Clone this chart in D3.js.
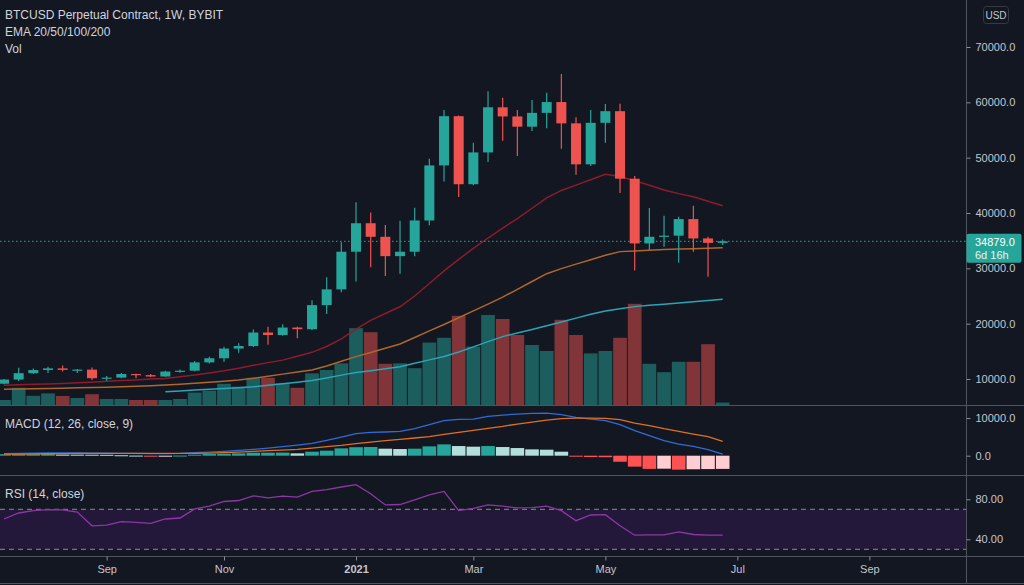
<!DOCTYPE html>
<html>
<head>
<meta charset="utf-8">
<script src="https://cdn.jsdelivr.net/npm/d3@7"></script>
<style>
  html, body { margin: 0; padding: 0; background: #131722; overflow: hidden; }
  svg { display: block; font-family: "Liberation Sans", Arial, sans-serif; }
</style>
</head>
<body>
<svg id="chart" width="1024" height="585"></svg>
<script>
// BTCUSD perpetual (Bybit), weekly bars, week of 2020-07-20 .. week of 2021-06-28
var weeks = d3.timeMonday.range(new Date(2020, 6, 20), new Date(2021, 6, 1));

var open  = [9150, 9900, 11050, 11620, 11920, 11650, 11700, 10150, 10250, 10900, 10700, 10450, 11350, 11500, 13000, 13750, 15500, 15950, 18400, 17950, 19300, 19000, 23350, 26200, 33000, 38150, 35700, 32200, 33000, 38650, 48600, 57500, 45200, 50950, 59100, 57450, 55600, 58100, 60050, 56200, 48800, 56300, 58400, 46200, 34500, 35700, 35900, 38900, 35400, 34600];
var high  = [9990, 12050, 11900, 12200, 12450, 11800, 12100, 10550, 11100, 10950, 10900, 11480, 11700, 13250, 14000, 15850, 16450, 18950, 19450, 19900, 19450, 24250, 28400, 34700, 41950, 40100, 37850, 38600, 40950, 49800, 58600, 57600, 52700, 62000, 60850, 58600, 60400, 61750, 65100, 57300, 58600, 59700, 59750, 46700, 40900, 39500, 39300, 41300, 35700, 35200];
var low   = [9050, 9650, 10950, 11100, 11350, 11100, 9800, 9700, 10150, 10150, 10350, 10400, 11150, 11400, 12800, 13100, 14750, 15800, 16200, 17800, 17350, 18850, 21750, 25700, 27600, 30200, 28600, 29000, 32200, 37800, 45700, 42900, 45000, 49200, 53050, 50300, 54800, 55300, 51600, 46900, 48500, 52700, 43600, 29600, 33300, 33900, 31000, 33000, 28500, 34200];
var close = [9900, 11050, 11620, 11920, 11650, 11700, 10150, 10250, 10900, 10700, 10450, 11350, 11500, 13000, 13750, 15500, 15950, 18400, 17950, 19300, 19000, 23350, 26200, 33000, 38150, 35700, 32200, 33000, 38650, 48600, 57500, 45200, 50950, 59100, 57450, 55600, 58100, 60050, 56200, 48800, 56300, 58400, 46200, 34500, 35700, 35900, 38900, 35400, 34600, 34879];
// volume, billions of contracts
var volume = [1.25, 4.3, 2.3, 2.9, 2.25, 1.75, 2.7, 1.5, 1.5, 1.25, 1.25, 1.25, 1.5, 3.1, 3.6, 5.3, 4.6, 6.8, 6.8, 5.4, 4.3, 7.9, 8.75, 10.4, 19.2, 18.2, 10.3, 10.4, 9.2, 15.6, 16.8, 22.3, 14.6, 22.5, 21.5, 17.5, 15, 13.5, 21.3, 17.5, 12.9, 13.5, 16.8, 25.3, 10.3, 8.2, 10.8, 10.8, 15.2, 0.6];

var ema20  = [8860, 8950, 9040, 9110, 9200, 9310, 9430, 9580, 9710, 9830, 9980, 10100, 10410, 10720, 11100, 11490, 11950, 12470, 12960, 13410, 14120, 14820, 15870, 17260, 19010, 20600, 21830, 23060, 25000, 27250, 29530, 31610, 33600, 35480, 37250, 39000, 40860, 42740, 44080, 45040, 46010, 46990, 46610, 45820, 45000, 44170, 43500, 42920, 42130, 41320];
var ema50  = [8130, 8190, 8240, 8300, 8350, 8400, 8460, 8530, 8620, 8710, 8800, 8910, 9070, 9240, 9400, 9580, 9810, 10140, 10500, 10880, 11260, 11620, 12340, 13210, 14040, 14800, 15560, 16320, 17510, 18690, 19860, 21070, 22300, 23530, 24800, 26210, 27620, 29030, 29950, 30760, 31560, 32350, 33020, 33150, 33270, 33420, 33490, 33560, 33630, 33710];
var ema100 = [null, null, null, null, null, null, null, null, null, null, null, 7700, 7840, 8010, 8150, 8300, 8440, 8590, 8860, 9150, 9430, 9720, 10180, 10700, 11170, 11510, 11870, 12220, 12830, 13460, 14080, 14890, 15810, 16750, 17660, 18310, 18960, 19610, 20300, 21000, 21710, 22300, 22700, 23080, 23310, 23530, 23750, 23970, 24180, 24400];

var macdLine   = [530, 620, 660, 710, 710, 710, 700, 660, 620, 620, 575, 575, 620, 800, 970, 1150, 1415, 1680, 2030, 2390, 2830, 3270, 4070, 4950, 5830, 6190, 6280, 6450, 7160, 8220, 9280, 9640, 9720, 10430, 10780, 11050, 11230, 11315, 10870, 10170, 9720, 9280, 8220, 6630, 5300, 3980, 3090, 2480, 1590, 440];
var signalLine = [440, 440, 480, 520, 560, 600, 620, 630, 630, 620, 620, 610, 600, 620, 700, 800, 970, 1150, 1330, 1500, 1680, 2030, 2390, 2740, 3180, 3620, 3980, 4330, 4690, 5040, 5660, 6190, 6720, 7250, 7780, 8400, 8930, 9460, 9810, 9990, 9990, 9900, 9550, 8660, 7960, 7160, 6450, 5750, 5040, 3800];
var histogram  = [400, 420, 440, 450, 300, 280, 260, 240, 120, 30, -60, -40, 40, 265, 440, 530, 620, 780, 800, 820, 620, 1060, 1330, 1945, 2250, 2300, 1860, 1770, 1860, 2480, 3000, 2560, 2390, 2560, 2300, 2030, 1680, 1590, 1060, -265, -350, -400, -1600, -2900, -3500, -3450, -3700, -3600, -3550, -3500];

var rsi = [60.3, 66.3, 68.7, 69.7, 69.4, 67.3, 53.5, 54.2, 57.6, 56.9, 55.9, 60.3, 61.3, 70.4, 73.1, 77.8, 78.8, 83.5, 81.5, 83.2, 82.2, 87.9, 89.6, 92.3, 94.6, 85.5, 74.4, 74.8, 79.5, 84.5, 87.9, 68.7, 71.0, 74.4, 73.1, 71.4, 71.7, 73.1, 68.7, 58.6, 64.3, 64.6, 53.5, 44.1, 44.4, 44.4, 47.5, 44.8, 44.1, 44.1];

var priceTicks = [10000, 20000, 30000, 40000, 50000, 60000, 70000];
var macdTicks = [0, 10000];
var rsiTicks = [40, 80];
var timeTickDates = ["2020-09-07", "2020-11-02", "2021-01-04", "2021-03-01", "2021-05-03", "2021-07-05", "2021-09-06"];
var timeTickLabels = ["Sep", "Nov", "2021", "Mar", "May", "Jul", "Sep"];

var lastPrice = close[close.length - 1];
var timeLeft = "6d 16h";

// layout
var axisX = 966.5;
var mainBottom = 405.5, macdBottom = 475.5, rsiBottom = 556.5, timeBottom = 583.5;
var upColor = "#26a69a", downColor = "#ef5350";
var gridColor = "#50535e", textColor = "#c3c6ce", legendColor = "#d1d4dc";

var svg = d3.select("#chart");
var parseDay = d3.timeParse("%Y-%m-%d");

var x = d3.scaleTime()
    .domain([weeks[0], weeks[weeks.length - 1]])
    .range([4, 722.7]);
var y = d3.scaleLinear().domain([10000, 70000]).range([379, 47]);
var yVol = d3.scaleLinear().domain([0, 25]).range([405, 305]);
var yMacd = d3.scaleLinear().domain([0, 10000]).range([455.7, 418]);
var yRsi = d3.scaleLinear().domain([40, 80]).range([539.3, 499.3]);

var idx = d3.range(weeks.length);
function xi(i) { return x(weeks[i]); }
function isUp(i) { return close[i] >= open[i]; }

// clip paths per pane
var defs = svg.append("defs");
[["clipMain", 0, mainBottom], ["clipMacd", mainBottom, macdBottom], ["clipRsi", macdBottom, rsiBottom]]
    .forEach(function (c) {
      defs.append("clipPath").attr("id", c[0])
        .append("rect").attr("x", 0).attr("y", c[1]).attr("width", axisX).attr("height", c[2] - c[1]);
    });

// ---------- main pane ----------
var main = svg.append("g").attr("clip-path", "url(#clipMain)");

main.selectAll("rect.vol")
    .data(idx)
  .enter().append("rect")
    .attr("class", "vol")
    .attr("x", function (i) { return xi(i) - 6.85; })
    .attr("width", 13.7)
    .attr("y", function (i) { return yVol(volume[i]); })
    .attr("height", function (i) { return yVol(0) - yVol(volume[i]); })
    .attr("fill", function (i) { return isUp(i) ? upColor : downColor; })
    .attr("fill-opacity", 0.5);

function emaLine(values) {
  return d3.line()
      .defined(function (i) { return values[i] != null; })
      .x(xi)
      .y(function (i) { return y(values[i]); });
}
[[ema20, "#8e1b2a"], [ema50, "#b0662c"], [ema100, "#2aa5b6"]].forEach(function (e) {
  main.append("path")
      .datum(idx)
      .attr("d", emaLine(e[0]))
      .attr("fill", "none")
      .attr("stroke", e[1])
      .attr("stroke-width", 1.5);
});

// current price line
main.append("line")
    .attr("x1", 0).attr("x2", axisX)
    .attr("y1", y(lastPrice)).attr("y2", y(lastPrice))
    .attr("stroke", upColor)
    .attr("stroke-width", 1)
    .attr("stroke-dasharray", "1.5,2.5");

var candles = main.selectAll("g.candle")
    .data(idx)
  .enter().append("g")
    .attr("class", "candle");

candles.append("line")
    .attr("x1", xi).attr("x2", xi)
    .attr("y1", function (i) { return y(high[i]); })
    .attr("y2", function (i) { return y(low[i]); })
    .attr("stroke", function (i) { return isUp(i) ? upColor : downColor; })
    .attr("stroke-width", 1.2);

candles.append("rect")
    .attr("x", function (i) { return xi(i) - 5; })
    .attr("width", 10)
    .attr("y", function (i) { return y(Math.max(open[i], close[i])); })
    .attr("height", function (i) { return Math.max(1.2, Math.abs(y(open[i]) - y(close[i]))); })
    .attr("fill", function (i) { return isUp(i) ? upColor : downColor; });

// ---------- MACD pane ----------
var macdG = svg.append("g").attr("clip-path", "url(#clipMacd)");

function histColor(i) {
  var h = histogram[i], prev = i > 0 ? histogram[i - 1] : -Infinity;
  if (h >= 0) return prev < h ? "#26a69a" : "#b2dfdb";
  return prev < h ? "#ffcdd2" : "#ff5252";
}

macdG.selectAll("rect.hist")
    .data(idx)
  .enter().append("rect")
    .attr("class", "hist")
    .attr("x", function (i) { return xi(i) - 6.8; })
    .attr("width", 13.6)
    .attr("y", function (i) { return Math.min(yMacd(0), yMacd(histogram[i])); })
    .attr("height", function (i) { return Math.max(1, Math.abs(yMacd(histogram[i]) - yMacd(0))); })
    .attr("fill", histColor);

[[macdLine, "#2f6bd9"], [signalLine, "#e0701f"]].forEach(function (m) {
  macdG.append("path")
      .datum(idx)
      .attr("d", d3.line().x(xi).y(function (i) { return yMacd(m[0][i]); }))
      .attr("fill", "none")
      .attr("stroke", m[1])
      .attr("stroke-width", 1.3);
});

// ---------- RSI pane ----------
var rsiG = svg.append("g").attr("clip-path", "url(#clipRsi)");

rsiG.append("rect")
    .attr("x", 0).attr("width", axisX)
    .attr("y", yRsi(70)).attr("height", yRsi(30) - yRsi(70))
    .attr("fill", "#24183a");

[70, 30].forEach(function (lvl) {
  rsiG.append("line")
      .attr("x1", 0).attr("x2", axisX)
      .attr("y1", yRsi(lvl)).attr("y2", yRsi(lvl))
      .attr("stroke", "#8a8d96")
      .attr("stroke-dasharray", "5,4");
});

rsiG.append("path")
    .datum(idx)
    .attr("d", d3.line().x(xi).y(function (i) { return yRsi(rsi[i]); }))
    .attr("fill", "none")
    .attr("stroke", "#8e36a8")
    .attr("stroke-width", 1.3);

// ---------- separators ----------
[mainBottom, macdBottom, rsiBottom, timeBottom].forEach(function (yy) {
  svg.append("line")
      .attr("x1", 0).attr("x2", 1024).attr("y1", yy).attr("y2", yy)
      .attr("stroke", gridColor);
});
svg.append("line")
    .attr("x1", axisX).attr("x2", axisX).attr("y1", 0).attr("y2", timeBottom)
    .attr("stroke", gridColor);

// ---------- axes ----------
function styleAxis(g) {
  g.select(".domain").remove();
  g.selectAll(".tick line").attr("stroke", "#8a8d96");
  g.selectAll(".tick text")
      .attr("fill", textColor)
      .style("font-size", "11px")
      .style("font-family", "'Liberation Sans', Arial, sans-serif");
}

svg.append("g")
    .attr("transform", "translate(" + axisX + ",0)")
    .call(d3.axisRight(y).tickValues(priceTicks).tickFormat(d3.format(".1f")).tickSize(4).tickPadding(5))
    .call(styleAxis);

svg.append("g")
    .attr("transform", "translate(" + axisX + ",0)")
    .call(d3.axisRight(yMacd).tickValues(macdTicks).tickFormat(d3.format(".1f")).tickSize(4).tickPadding(5))
    .call(styleAxis);

svg.append("g")
    .attr("transform", "translate(" + axisX + ",0)")
    .call(d3.axisRight(yRsi).tickValues(rsiTicks).tickFormat(d3.format(".2f")).tickSize(4).tickPadding(5))
    .call(styleAxis);

var timeDates = timeTickDates.map(parseDay);
svg.append("g")
    .attr("transform", "translate(0," + rsiBottom + ")")
    .call(d3.axisBottom(x).tickValues(timeDates)
        .tickFormat(function (d, i) { return timeTickLabels[i]; })
        .tickSize(4).tickPadding(5))
    .call(styleAxis)
    .selectAll(".tick text")
    .style("font-weight", function (d, i) { return timeTickLabels[i] === "2021" ? "bold" : "normal"; });

// last price label
var py = y(lastPrice);
svg.append("rect")
    .attr("x", axisX).attr("y", py - 7.5)
    .attr("width", 55).attr("height", 29)
    .attr("rx", 2)
    .attr("fill", upColor);
svg.append("text")
    .attr("x", axisX + 8.5).attr("y", py + 5)
    .attr("fill", "#ffffff").style("font-size", "11px")
    .text(d3.format(".1f")(lastPrice));
svg.append("text")
    .attr("x", axisX + 8.5).attr("y", py + 18)
    .attr("fill", "#e8f5f3").style("font-size", "11px")
    .text(timeLeft);

// currency badge
svg.append("rect")
    .attr("x", 983.5).attr("y", 6.5).attr("width", 25).attr("height", 17).attr("rx", 3)
    .attr("fill", "none").attr("stroke", "#363a45");
svg.append("text")
    .attr("x", 996).attr("y", 19).attr("text-anchor", "middle")
    .attr("fill", textColor).style("font-size", "10px")
    .text("USD");

// ---------- legends ----------
var legend = [
  ["BTCUSD Perpetual Contract, 1W, BYBIT", 19],
  ["EMA 20/50/100/200", 36],
  ["Vol", 53],
  ["MACD (12, 26, close, 9)", 428],
  ["RSI (14, close)", 498]
];
svg.selectAll("text.legend")
    .data(legend)
  .enter().append("text")
    .attr("class", "legend")
    .attr("x", 5)
    .attr("y", function (d) { return d[1]; })
    .attr("fill", legendColor)
    .style("font-size", "12px")
    .text(function (d) { return d[0]; });
</script>
</body>
</html>
